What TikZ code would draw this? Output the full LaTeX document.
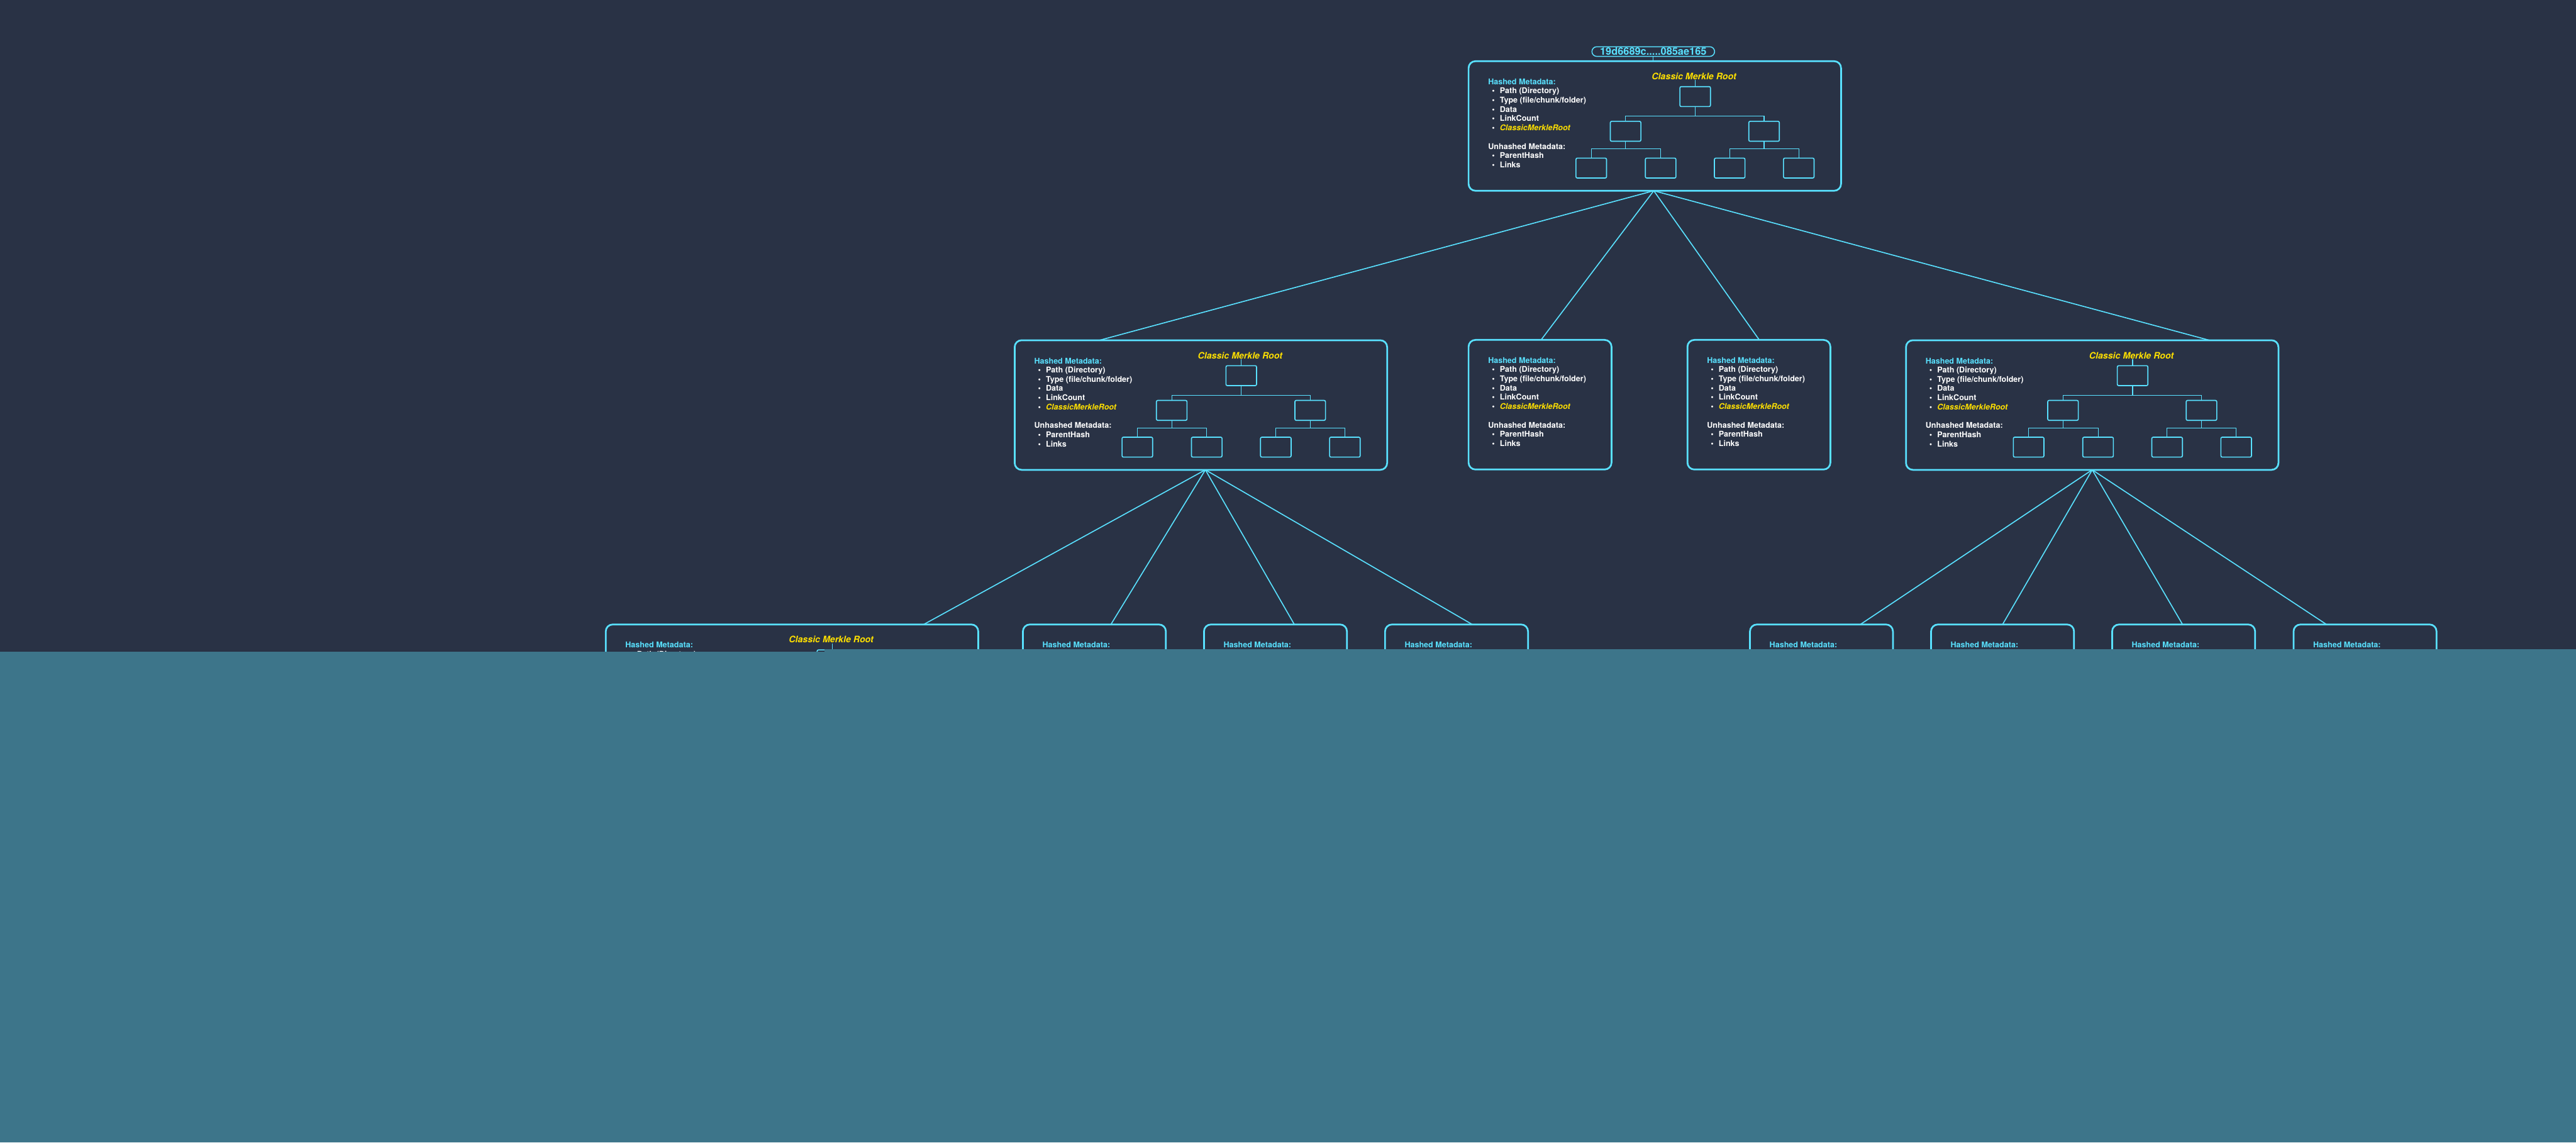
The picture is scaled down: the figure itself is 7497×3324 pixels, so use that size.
\documentclass[tikz,border=0pt]{standalone}
\usepackage{fontspec}
\setmainfont{TeX Gyre Heros}
\usetikzlibrary{calc}
\definecolor{bg}{HTML}{293245}
\definecolor{cy}{HTML}{59E1FF}
\definecolor{yl}{HTML}{FFE000}
\definecolor{tealov}{HTML}{3D758A}
\newcommand\txtfont{\fontsize{4.6}{5}\selectfont\bfseries}
\newcommand\metatext{%
  \node[hm] (-h) at (56,68) {Hashed Metadata:};
  \node[bul] (-b1) at (72,94) {\textbullet};  \node[itm] (-i1) at (90,94) {Path (Directory)};
  \node[bul] (-b2) at (72,121) {\textbullet}; \node[itm] (-i2) at (90,121) {Type (file/chunk/folder)};
  \node[bul] (-b3) at (72,148) {\textbullet}; \node[itm] (-i3) at (90,148) {Data};
  \node[bul] (-b4) at (72,175) {\textbullet}; \node[itm] (-i4) at (90,175) {LinkCount};
  \node[bul] (-b5) at (72,202) {\textbullet}; \node[cmr] (-i5) at (90,202) {ClassicMerkleRoot};
  \node[itm] (-u) at (56,256) {Unhashed Metadata:};
  \node[bul] (-b6) at (72,283) {\textbullet}; \node[itm] (-i6) at (90,283) {ParentHash};
  \node[bul] (-b7) at (72,310) {\textbullet}; \node[itm] (-i7) at (90,310) {Links};
}
\tikzset{
  frame/.style={draw=cy, line width=1pt, rounded corners=4pt, fill=bg, inner sep=0pt, outer sep=0pt, anchor=north west, minimum height=75.4pt},
  hm/.style={anchor=base west, inner sep=0pt, text=cy, font=\txtfont},
  itm/.style={anchor=base west, inner sep=0pt, text=white, font=\txtfont},
  cmr/.style={anchor=base west, inner sep=0pt, text=yl, font=\txtfont\itshape},
  bul/.style={anchor=base, inner sep=0pt, text=white, font=\txtfont},
  ttl/.style={inner sep=0pt, text=yl, font=\fontsize{5.2}{6}\selectfont\bfseries\itshape},
  mini/.style={draw=cy, line width=0.6pt, rounded corners=0.8pt, minimum width=17.8pt, minimum height=11.6pt, inner sep=0pt},
  minil/.style={draw=cy, line width=0.4pt},
  link/.style={draw=cy, line width=0.6pt},
  pics/bigbox/.style={code={
    \node[frame, minimum width=216.8pt] (-box) at (0,0) {};
    \metatext
    \node[ttl] (-title) at (656,44) {Classic Merkle Root};
    \node[mini] (-m0) at (659.5,103) {};
    \node[mini] (-m1) at (457,204) {};
    \node[mini] (-m2) at (860,204) {};
    \node[mini] (-m3) at (357,311) {};
    \node[mini] (-m4) at (559,311) {};
    \node[mini] (-m5) at (760,311) {};
    \node[mini] (-m6) at (961,311) {};
    \draw[minil] (-m0.north) -- ++(0,-18);
    \draw[minil] (-m0.south) -- ++(0,27) coordinate (-j0);
    \draw[minil] (-m1.north) |- (-j0) -| (-m2.north);
    \draw[minil] (-m1.south) -- ++(0,21) coordinate (-j1);
    \draw[minil] (-m3.north) |- (-j1) -| (-m4.north);
    \draw[minil] (-m2.south) -- ++(0,21) coordinate (-j2);
    \draw[minil] (-m5.north) |- (-j2) -| (-m6.north);
  }},
  pics/smallbox/.style={code={
    \node[frame, minimum width=83.2pt] (-box) at (0,0) {};
    \metatext
  }},
}
\begin{document}
\begin{tikzpicture}[x=0.2pt,y=-0.2pt]
\useasboundingbox (0,0) rectangle (7497,3324);
\fill[bg] (0,0) rectangle (7497,3324);
% root
\pic (R) at (4274,178) {bigbox};
\node[draw=cy, line width=0.55pt, rounded corners=2.8pt, minimum width=71.4pt, minimum height=5.6pt, inner sep=0pt, text=cy, font=\fontsize{6}{6}\selectfont\bfseries] (hash) at (4811.5,150) {19d6689c.....085ae165};
\draw[minil] (hash.south) -- (hash.south |- R-box.north);
% level 1
\pic (A) at (2953,990) {bigbox};
\pic (B) at (4274,989) {smallbox};
\pic (C) at (4911,989) {smallbox};
\pic (D) at (5547,990) {bigbox};
\draw[link] ($(R-box.south)+(-3,0)$) coordinate (r0) -- ($(A-box.north west)+(247,0)$);
\draw[link] (r0) -- ($(B-box.north west)+(211,0)$);
\draw[link] (r0) -- ($(C-box.north west)+(209,0)$);
\draw[link] (r0) -- ($(D-box.north west)+(883,0)$);
% level 2
\pic (E) at (1763,1817) {bigbox};
\pic (F) at (2977,1817) {smallbox};
\pic (G) at (3504,1817) {smallbox};
\pic (H) at (4031,1817) {smallbox};
\pic (I) at (5093,1817) {smallbox};
\pic (J) at (5620,1817) {smallbox};
\pic (K) at (6147,1817) {smallbox};
\pic (M) at (6675,1817) {smallbox};
\draw[link] ($(A-box.south)+(13,0)$) coordinate (a0) -- ($(E-box.north west)+(925,0)$);
\draw[link] (a0) -- ($(F-box.north west)+(256,0)$);
\draw[link] (a0) -- ($(G-box.north west)+(263,0)$);
\draw[link] (a0) -- ($(H-box.north west)+(254,0)$);
\draw[link] (D-box.south) -- ($(I-box.north west)+(321,0)$);
\draw[link] (D-box.south) -- ($(J-box.north west)+(208,0)$);
\draw[link] (D-box.south) -- ($(K-box.north west)+(205,0)$);
\draw[link] (D-box.south) -- ($(M-box.north west)+(96,0)$);
% overlay
\fill[tealov] (0,1896) rectangle (2400,3324);
\fill[tealov] (2400,1888) rectangle (7497,3324);
\end{tikzpicture}
\end{document}
